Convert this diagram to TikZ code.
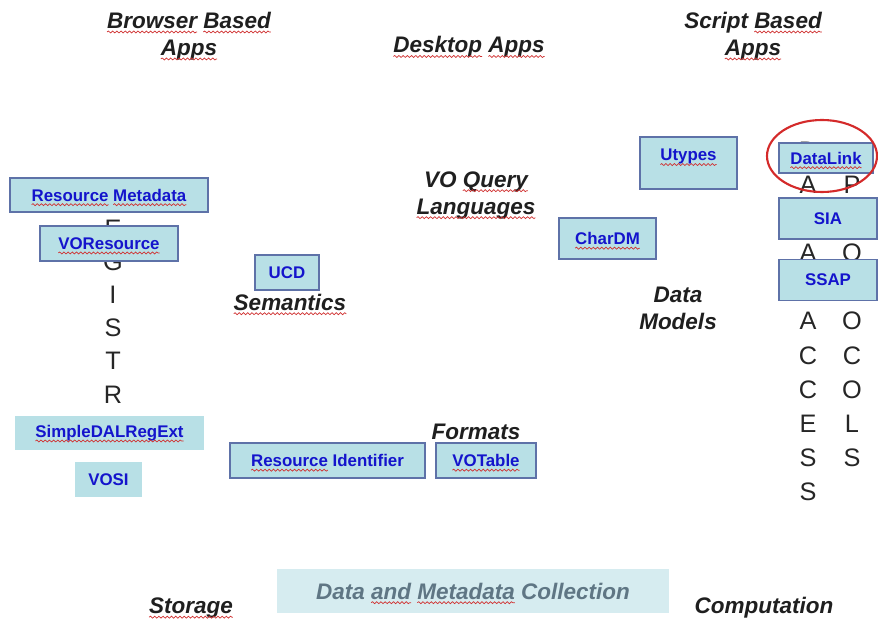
\documentclass[tikz,border=0pt]{standalone}
\usepackage{fontspec}
\setmainfont{Liberation Sans}
\usetikzlibrary{decorations.pathmorphing}

\definecolor{boxfill}{HTML}{B8E0E6}
\definecolor{boxline}{HTML}{5E72A8}
\definecolor{boxtext}{HTML}{1414CC}
\definecolor{collfill}{HTML}{D6ECF0}
\definecolor{colltext}{HTML}{5F7684}
\definecolor{ringred}{HTML}{D42A2A}
\definecolor{spellred}{HTML}{D03030}

\tikzset{
  box/.style={draw=boxline, fill=boxfill, line width=1pt, text=boxtext,
    font=\bfseries\fontsize{12}{14}\selectfont, inner sep=0pt},
  flatbox/.style={box, draw=none},
  lbl/.style={text=black!88, font=\bfseries\itshape\fontsize{16}{19.2}\selectfont, align=center},
  vletter/.style={anchor=base, text=black!85, font=\fontsize{18}{20}\selectfont},
  spellword/.style={shape=rectangle, draw=none, fill=none, inner sep=0pt, outer sep=0pt,
    minimum width=0pt, minimum height=0pt, text height=, text depth=}
}

% red wavy underline under one word
\newcommand\spl[1]{\tikz[baseline=(w.base)]{\node[spellword] (w) {#1};
  \draw[overlay, spellred, line width=0.5pt, decorate,
    decoration={snake, amplitude=0.7pt, segment length=3pt}]
    ([yshift=-2.6pt]w.base west) -- ([yshift=-2.6pt]w.base east);}}

\begin{document}
\begin{tikzpicture}[x=0.25mm,y=-0.25mm]
\fill[white] (0,0) rectangle (878,625);
\useasboundingbox (0,0) rectangle (878,625);

% vertical words
\foreach \c [count=\i] in {R,E,G,I,S,T,R,Y}
  \node[vletter] (reg\i) at (113,172+33*\i) {\c};
\foreach \c [count=\i] in {D,A,T,A,{},A,C,C,E,S,S}
  \node[vletter] (acc\i) at (808,126+34*\i) {\c};
\foreach \c [count=\i] in {P,R,O,T,O,C,O,L,S}
  \node[vletter] (pro\i) at (852,160+34*\i) {\c};

% headings
\node[lbl] (browser) at (189,36) {\spl{Browser} \spl{Based}\\\spl{Apps}};
\node[lbl] (desktop) at (469,47) {\spl{Desktop} \spl{Apps}};
\node[lbl] (script) at (753,36) {Script \spl{Based}\\\spl{Apps}};
\node[lbl] (query) at (476,195) {VO \spl{Query}\\\spl{Languages}};
\node[lbl] (semantics) at (290,302) {\spl{Semantics}};
\node[lbl] (models) at (678,308) {Data\\Models};
\node[lbl] (formats) at (476,432) {Formats};
\node[lbl] (storage) at (191,608) {\spl{Storage}};
\node[lbl] (computation) at (764,608) {Computation};

% registry
\node[box, minimum width=49.5mm, minimum height=8.5mm] (resmeta) at (109,195) {\spl{Resource} \spl{Metadata}};
\node[box, minimum width=34.5mm, minimum height=8.75mm] (voresource) at (109,243.5) {\spl{VOResource}};
\node[flatbox, minimum width=47.25mm, minimum height=8.5mm] (simpledal) at (109.5,433) {\spl{SimpleDALRegExt}};
\node[flatbox, minimum width=16.75mm, minimum height=8.75mm] (vosi) at (108.5,479.5) {VOSI};

\node[box, minimum width=16mm, minimum height=8.75mm] (ucd) at (287,272.5) {UCD};
\node[box, minimum width=48.75mm, minimum height=8.75mm] (resid) at (327.5,460.5) {\spl{Resource} Identifier};
\node[box, minimum width=25mm, minimum height=8.75mm] (votable) at (486,460.5) {\spl{VOTable}};

% data models
\node[box, minimum width=24.25mm, text height=12.5pt, text depth=15.5pt, inner ysep=4.5pt] (utypes) at (688.5,163) {\spl{Utypes}};
\node[box, minimum width=24.25mm, minimum height=10.25mm] (chardm) at (607.5,238.5) {\spl{CharDM}};

% data access
\node[box, minimum width=23.5mm, minimum height=7.5mm] (datalink) at (826,158) {\spl{DataLink}};
\node[box, minimum width=24.5mm, minimum height=10.25mm] (sia) at (828,218.5) {SIA};
\node[box, minimum width=24.5mm, minimum height=10.25mm] (ssap) at (828,280) {SSAP};
\draw[ringred, line width=1.5pt] (822,156) ellipse [x radius=55, y radius=36];

\node[fill=collfill, text=colltext, minimum width=98mm, minimum height=11mm,
  font=\bfseries\itshape\fontsize{16}{19}\selectfont] (collection) at (473,591)
  {Data \spl{and} \spl{Metadata} Collection};
\end{tikzpicture}
\end{document}
